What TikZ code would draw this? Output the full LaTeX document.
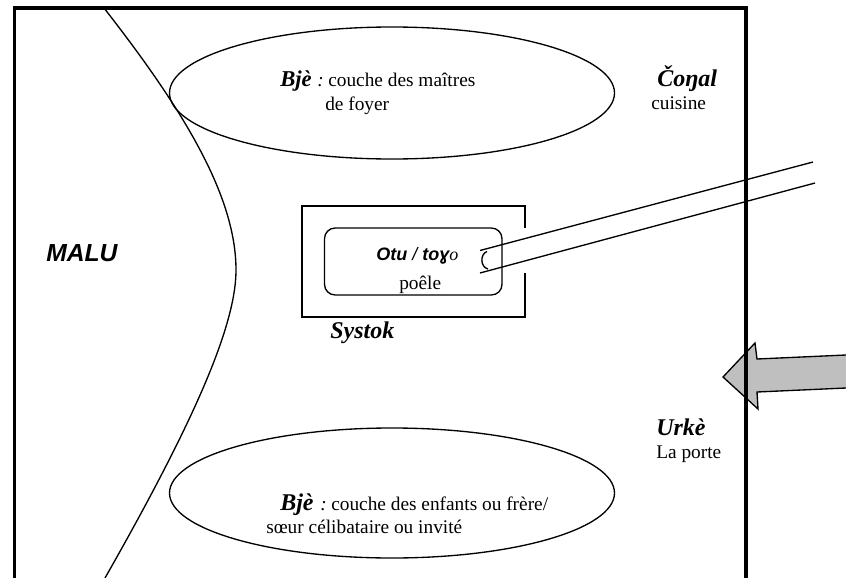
\documentclass[tikz,border=0pt]{standalone}
\usepackage{fontspec}
\setmainfont{Liberation Serif}
\newfontfamily\arialf{Liberation Sans}
\tikzset{
  px/.style={x=0.75pt,y=-0.75pt},
  thin line/.style={draw=black,line width=1pt},
  frame line/.style={draw=black,line width=2.6pt},
  lbl/.style={inner sep=0pt,anchor=base west,font=\fontsize{14.5}{16}\selectfont},
  colon/.style={inner sep=0pt,anchor=base west,font=\fontsize{14.5}{16}\selectfont\itshape},
  head/.style={inner sep=0pt,anchor=base west,font=\fontsize{18}{20}\selectfont\bfseries\itshape},
  sanshead/.style={inner sep=0pt,anchor=base west,font=\arialf\fontsize{18.5}{20}\selectfont\bfseries\itshape},
  stovehead/.style={inner sep=0pt,anchor=base west,font=\arialf\fontsize{13.5}{15}\selectfont\itshape},
}
\begin{document}
\begin{tikzpicture}[px]
\useasboundingbox (0,0) rectangle (846,578);
% door arrow
\draw[thin line,fill=black!25] (846,355) -- (757,359) -- (755,343) -- (723,377) -- (758,409) -- (757,392) -- (846,388);
% walls
\draw[frame line] (14.5,578) -- (14.5,8) -- (746,8) -- (746,578);
% yard curve
\draw[thin line] (104,8) .. controls (182,108) and (236,195) .. (236,270) .. controls (236,325) and (195,420) .. (105,578);
% sleeping areas
\draw[thin line] (392,93) ellipse [x radius=222.5,y radius=66];
\draw[thin line] (392,493) ellipse [x radius=222.5,y radius=65];
% stove
\draw[thin line] (525,228) -- (525,206) -- (302,206) -- (302,317) -- (525,317) -- (525,273);
\draw[thin line,rounded corners=8pt] (324.5,228) rectangle (502,295);
% pipe
\coordinate (pipeAin) at (480,250.5);
\coordinate (pipeAout) at (813,162);
\coordinate (pipeBin) at (480,273);
\coordinate (pipeBout) at (815,183);
\draw[thin line] (pipeAin) -- (pipeAout);
\draw[thin line] (pipeBin) -- (pipeBout);
\draw[thin line] (487,251.5) .. controls (480,254) and (480,267) .. (488,269);
% labels
\node[head,font=\fontsize{17}{19}\selectfont\bfseries\itshape] (bje1) at (280,86) {Bjè};
\node[colon] (c1) at (317,86) {:};
\node[lbl] (t1) at (328,86) {couche des maîtres};
\node[lbl] (t2) at (325,110) {de foyer};
\node[head] (conal) at (657,86) {Čoŋal};
\node[lbl] (cuisine) at (651,109) {cuisine};
\node[sanshead] (malu) at (46,261) {MALU};
\node[stovehead] (otu) at (376,260) {{\bfseries Otu} / {\bfseries toɣ}{\rmfamily o}};
\node[lbl] (poele) at (399,289) {poêle};
\node[head] (systok) at (330,338) {Systok};
\node[head] (urke) at (656,435) {Urkè};
\node[lbl] (porte) at (656,458) {La porte};
\node[head] (bje2) at (280,510) {Bjè};
\node[colon] (c2) at (320,510) {:};
\node[lbl] (t3) at (331,510) {couche des enfants ou frère/};
\node[lbl] (t4) at (266,533) {sœur célibataire ou invité};
\end{tikzpicture}
\end{document}
